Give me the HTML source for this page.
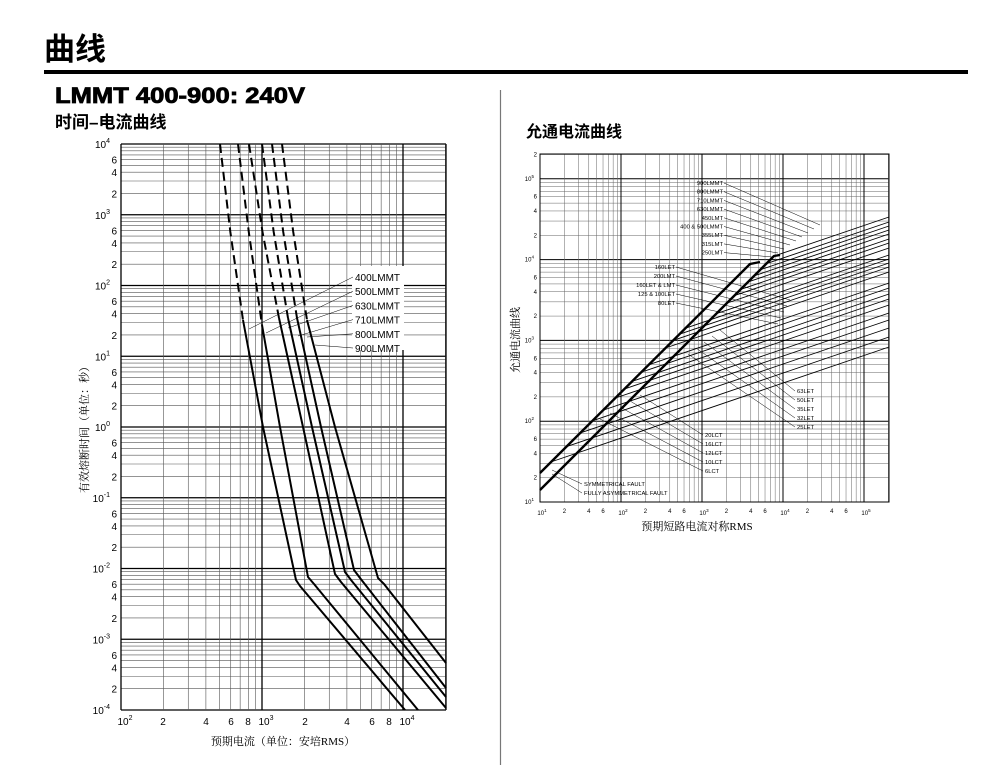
<!DOCTYPE html>
<html><head><meta charset="utf-8"><style>
body{margin:0;background:#fff;width:999px;height:765px;overflow:hidden}
svg{position:absolute;left:0;top:0}
</style></head><body>
<svg id="s" width="999" height="765" xmlns="http://www.w3.org/2000/svg" font-family="Liberation Sans, Noto Sans CJK SC, sans-serif">
<text x="44" y="60" font-size="31" font-weight="bold" font-family="Liberation Sans, Noto Sans CJK SC, sans-serif">曲线</text>
<rect x="44" y="70" width="924" height="4" fill="#000"/>
<text x="55" y="103" font-size="22" font-weight="900" textLength="250" lengthAdjust="spacingAndGlyphs" stroke="#000" stroke-width="0.8">LMMT 400-900: 240V</text>
<text x="55" y="128" font-size="17" font-weight="bold">时间–电流曲线</text>
<text x="526" y="137" font-size="16" font-weight="bold">允通电流曲线</text>
<line x1="500.5" y1="90" x2="500.5" y2="765" stroke="#777" stroke-width="1.2"/>
<g id="g"></g>
</svg>
<script>
const g=document.getElementById('g');let h='';
function L(x1,y1,x2,y2,w,c,extra){h+=`<line x1="${x1}" y1="${y1}" x2="${x2}" y2="${y2}" stroke="${c||'#000'}" stroke-width="${w}" ${extra||''}/>`;}
function T(x,y,t,s,a,extra){h+=`<text x="${x}" y="${y}" font-size="${s}" text-anchor="${a||'start'}" ${extra||''}>${t}</text>`;}
function P(pts,w,extra){h+=`<polyline fill="none" stroke="#000" stroke-width="${w}" stroke-linejoin="round" points="${pts.map(p=>p.join(',')).join(' ')}" ${extra||''}/>`;}
// LEFT CHART
{const X0=121,X1=446,Y0=144,Y1=710,dx=141,dy=70.75;
 for(let d=0;d<8;d++)for(let m=1;m<10;m++){const y=710-(d+Math.log10(m))*dy;if(m==1)continue;L(X0,y,X1,y,0.6,'#555');}
 for(let d=0;d<=8;d++){const y=710-d*dy;L(X0,y,X1,y,1.3,'#000');}
 for(let d=0;d<3;d++)for(let m=1;m<10;m++){const x=X0+(d+Math.log10(m))*dx;if(x>X1)continue;L(x,Y0,x,Y1,m==1?1.3:0.6,m==1?'#000':'#555');}
 L(X1,Y0,X1,Y1,1.3);
 const ex=['-4','-3','-2','-1','0','1','2','3','4'];
 for(let d=0;d<=8;d++){const y=710-d*dy;T(110,y+4,'10<tspan dy="-5" font-size="7">'+ex[d]+'</tspan>',10,'end');
  if(d<8)for(const m of [2,4,6]){T(117,710-(d+Math.log10(m))*dy+4,m,10,'end');}}
 const xl=[[121,'10<tspan dy="-5" font-size="7">2</tspan>'],[163,'2'],[206,'4'],[231,'6'],[248,'8'],[262,'10<tspan dy="-5" font-size="7">3</tspan>'],[305,'2'],[347,'4'],[372,'6'],[389,'8'],[403,'10<tspan dy="-5" font-size="7">4</tspan>']];
 for(const [x,t] of xl)T(x+(t.length>2?4:0),725,t,10,'middle');
 T(283,745,'预期电流（单位：安培RMS）',11,'middle','font-family="Liberation Serif, Noto Serif CJK SC, serif"');
 T(88,427,'有效熔断时间（单位：秒）',11,'middle','transform="rotate(-90 88 427)" font-family="Liberation Serif, Noto Serif CJK SC, serif"');
 const C=[[[220,144],[243,320],[263,427],[296,580],[300,586],[405,710]],
 [[238,144],[262,325],[280,427],[308,577],[314,584],[418,710]],
 [[249,144],[279,318],[303,427],[335,574],[341,582],[446,708]],
 [[262,144],[288,318],[312,427],[345,572],[351,580],[446,697]],
 [[272,144],[297,318],[321,427],[354,570],[360,578],[446,688]],
 [[282,144],[307,320],[335,427],[378,578],[384,584],[446,663]]];
 for(const c of C){P([c[0],[c[0][0]+ (c[1][0]-c[0][0])*0.45,232],c[1]],2,'stroke-dasharray="9,5"');P(c.slice(1),2);}
 h+=`<rect x="352" y="266" width="52" height="84" fill="#fff"/>`;
 const lb=['400LMMT','500LMMT','630LMMT','710LMMT','800LMMT','900LMMT'];
 const tg=[[249,339],[266,343],[288,338],[298,346],[307,347],[315,355]];
 for(let i=0;i<6;i++){const y=277+i*14.2;T(355,y+4,lb[i],10);L(353,y,tg[i][0],tg[i][1]-10+i*0,0.5);}
}
// RIGHT CHART
{const X0=540,X1=889,Y0=154,Y1=502,dx=81,dy=80.8;
 for(let d=0;d<5;d++)for(let m=2;m<10;m++){const y=502-(d+Math.log10(m))*dy;if(y<Y0)continue;L(X0,y,X1,y,0.5,'#666');}
 for(let d=0;d<=4;d++){const y=502-d*dy;L(X0,y,X1,y,1,'#000');}
 for(let d=0;d<5;d++)for(let m=1;m<10;m++){const x=X0+(d+Math.log10(m))*dx;if(x>X1)continue;L(x,Y0,x,Y1,m==1?1:0.5,m==1?'#000':'#666');}
 h+=`<rect x="${X0}" y="${Y0}" width="${X1-X0}" height="${Y1-Y0}" fill="none" stroke="#000" stroke-width="1"/>`;
 for(let d=0;d<=4;d++){const y=502-d*dy;T(534,y+2,'10<tspan dy="-3" font-size="4.5">'+(d+1)+'</tspan>',6,'end');
  for(const m of [2,4,6]){const yy=502-(d+Math.log10(m))*dy;if(yy>=Y0-2)T(537,yy+2,m,6,'end');}}
 for(let d=0;d<5;d++){const x=X0+d*dx;T(x+2,515,'10<tspan dy="-3" font-size="4.5">'+(d+1)+'</tspan>',6,'middle');
  if(d<4)for(const m of [2,4,6]){T(X0+(d+Math.log10(m))*dx,513,m,6,'middle');}}
 T(697,530,'预期短路电流对称RMS',11,'middle','font-family="Liberation Serif, Noto Serif CJK SC, serif"');
 T(519,340,'允通电流曲线',11,'middle','transform="rotate(-90 519 340)" font-family="Liberation Serif, Noto Serif CJK SC, serif"');
 const ends=[217,222,226,230,234,239,243,248,255,259,263,267,272,283,288,294,299,305,313,320,328,337,347];
 const s=0.34;
 ends.forEach((ye,i)=>{let x,y;
   if(i<9){x=(490+540-ye-s*889)/(1-s);x=Math.min(x,774);y=490-(x-540);}
   else{x=(473+540-ye-s*889)/(1-s);y=473-(x-540);}
   L(x,y,889,ye,0.9);});
 P([[540,473],[750,264],[760,262]],2.4);
 P([[540,490],[774,256],[780,255]],2.4);
 const up=['900LMMT','800LMMT','710LMMT','630LMMT','450LMT','400 &amp; 500LMMT','355LMT','315LMT','250LMT'];
 up.forEach((t,i)=>{const y=183+i*8.7;T(723,y+2,t,5.8,'end');L(724,y,820-i*6,225+i*4,0.5);});
 const let1=['160LET','200LMT','160LET &amp; LMT','125 &amp; 100LET','80LET'];
 let1.forEach((t,i)=>{const y=267+i*9;T(675,y+2,t,5.8,'end');L(676,y,790-i*3,300+i*6,0.5);});
 const let2=['63LET','50LET','35LET','32LET','25LET'];
 let2.forEach((t,i)=>{const y=391+i*9;T(797,y+2,t,5.8);L(795,y,720-i*8,330+i*6,0.5);});
 const lct=['20LCT','16LCT','12LCT','10LCT','6LCT'];
 lct.forEach((t,i)=>{const y=435+i*9;T(705,y+2,t,5.8);L(703,y,640-i*10,395+i*6,0.5);});
 T(584,486,'SYMMETRICAL FAULT',5.8);T(584,495,'FULLY ASYMMETRICAL FAULT',5.8);
 L(582,484,552,470,0.5);L(582,493,552,474,0.5);
}
g.innerHTML=h;
</script>
</body></html>
